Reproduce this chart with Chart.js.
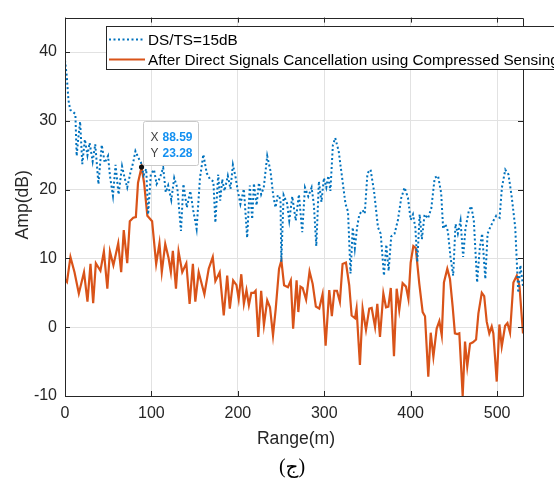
<!DOCTYPE html>
<html>
<head>
<meta charset="utf-8">
<script src="https://cdn.jsdelivr.net/npm/chart.js@4.4.1/dist/chart.umd.min.js"></script>
<style>
  html, body { margin: 0; padding: 0; background: #fff; }
  #wrap { width: 554px; height: 483px; }
</style>
</head>
<body>
<div id="wrap"><canvas id="chart" width="554" height="483"></canvas></div>
<script>
// DS/TS=15dB (blue, dotted)
const blueRange = [
  0, 2, 4, 6, 9, 12, 13.5, 15, 17.5, 20,
  23, 26, 28.5, 32, 35, 38.7, 42.5, 46, 49.8, 52,
  55.5, 58.5, 62, 66, 69, 72, 75.6, 79, 81.5, 85,
  88, 91, 94, 96.2, 99.3, 103, 106, 109.8, 113.6, 116.6,
  119.4, 123, 126.4, 130, 134.2, 137, 141, 145, 148.5, 152.3,
  156.2, 160.1, 164, 167.8, 171.7, 174, 177.3, 179.6, 181.9, 184.6,
  188.4, 191.5, 194.3, 197.4, 200, 203, 207, 210.8, 213.9, 216.6,
  218.6, 221.7, 224.4, 227, 230, 234, 237.8, 240.9, 243.6, 246.3,
  249.4, 250.3, 253, 257, 259.5, 263, 267, 270.7, 274.5, 277.7,
  281.5, 285.4, 288, 290.8, 293.8, 296.8, 299.6, 302.4, 304.8, 307.1,
  310, 312.7, 316.7, 320.7, 324.6, 327.5, 330.4, 333, 335.4, 338.1,
  340.6, 344.4, 346.9, 350, 353.6, 357.6, 362.2, 365.3, 369.1, 371.8,
  374.5, 377.5, 381.4, 385.3, 389.1, 393, 396.9, 400, 402.7, 405.4,
  407.7, 410.4, 413, 416.1, 420, 423.9, 427.8, 431.7, 435.3, 437.6,
  440.2, 443, 446.1, 449.2, 451.9, 454.6, 457.7, 460.7, 463.4, 467.3,
  470.1, 473.1, 476.9, 480, 482.7, 486.4, 489, 492, 495.9, 499,
  502.9, 505.6, 509.5, 513.2, 517.1, 521, 524.5, 527, 530
];
const blueAmp = [
  38.8, 36.5, 33, 31.6, 31.3, 31, 24.9, 27, 29.9, 23.7,
  27.3, 25, 26.8, 24.1, 26.6, 20.8, 26.5, 23.9, 24.9, 22,
  19.1, 23.6, 19.3, 23.4, 21.7, 20.3, 22.4, 24, 25.6, 24.6,
  23.9, 22.1, 23, 16.4, 22.2, 22.9, 20.8, 21.7, 23.2, 19.6,
  20.6, 18.5, 21.7, 20.2, 14.0, 20.8, 17.4, 19.8, 16.9, 14.3,
  21.7, 25.1, 22.4, 21.5, 21.2, 15.2, 22.2, 18.4, 21.5, 19.8,
  22, 20.1, 23.6, 21.8, 19.8, 17.9, 20.1, 13.0, 20.6, 15.7,
  20.9, 17.7, 21, 19.3, 20.3, 24.9, 22.7, 19.2, 17.4, 19.2,
  18.6, 9.5, 19.2, 18.0, 15.5, 19.0, 15.5, 19.3, 13.8, 20.3,
  19, 20.3, 17.8, 11.8, 21.2, 18.2, 21.7, 20.3, 22, 19.8,
  26.5, 27.5, 25.6, 21.7, 17.9, 16.8, 7.8, 14.5, 11.5, 14.6,
  16.4, 17.0, 16.5, 22.4, 22.9, 19.8, 14.5, 13.6, 7.5, 12.0,
  8.2, 13.2, 13.6, 15.6, 18.8, 20.3, 18.8, 15.6, 16.4, 14.5,
  9.5, 16.4, 12.8, 16.4, 15.8, 17.3, 21.7, 22, 19.5, 14.3,
  15, 14, 10.2, 7.5, 15, 13.6, 15.5, 10.2, 14.3, 16.9,
  17.6, 15.5, 6.5, 11.5, 13.6, 7, 13.6, 14.5, 15.5, 16.2,
  15.9, 20.3, 22.9, 22.2, 18.8, 14.5, 5, 9, 6
];

// After cancellation (orange, solid)
const orangeRange = [
  0, 2.3, 6.3, 11, 16, 22, 26, 29.5, 32.6, 35.7,
  41, 45, 49, 52, 56, 61.6, 65, 68, 72, 75,
  79, 82, 84.5, 88.59, 91.5, 95.3, 100.8, 105.5, 109.3, 112,
  116, 119.8, 122.5, 124.8, 128.4, 131.4, 135.7, 140.4, 144.2, 148,
  150.8, 154.7, 161.3, 166.3, 171, 174, 179, 183.7, 187.7, 190.7,
  194.6, 198.5, 201, 204, 207, 210, 212.8, 215.6, 218.6, 220.6,
  223.7, 227, 230.2, 234, 237.2, 240.7, 243.8, 247.7, 250.4, 253.5,
  258, 261.3, 264, 268, 270, 272.5, 275, 279, 283, 286.6,
  290.3, 294.2, 298.1, 301.6, 305.8, 308.8, 311.7, 314.7, 318.1, 321.2,
  325.1, 328.9, 331.7, 335.6, 337.4, 341.3, 344.4, 348.3, 352.1, 354.9,
  358.8, 361.4, 364.5, 368.4, 371.5, 374.2, 377, 380.7, 383.8, 386.8,
  390.7, 394.6, 397.4, 400, 403.1, 405.9, 410, 413.9, 416.6, 420.4,
  423.2, 426.3, 430.1, 433.2, 436, 438.5, 442.4, 445.5, 448.6, 451.2,
  454, 456.3, 460.2, 462.9, 465.5, 468.7, 472.1, 475.7, 478.4, 482.3,
  485.1, 488, 491, 493.8, 495.7, 499.6, 502.7, 505.4, 509.3, 512,
  515, 518.9, 522.8, 525.9, 530
];
const orangeAmp = [
  7.0, 6.6, 10.2, 8, 4.9, 8, 3.7, 9.2, 3.5, 9.3,
  8.2, 11, 5.6, 11, 9, 12.2, 8, 14.1, 9.3, 15.4,
  15.9, 16, 21, 23.28, 21, 16.2, 15.4, 9.2, 12.2, 8,
  12.1, 10.1, 8, 11.1, 5.6, 11, 8, 9.3, 3.4, 9.2,
  3.7, 8, 4.8, 8.5, 10.2, 6.7, 8, 1.7, 7.5, 2.7,
  6.8, 6.1, 4.1, 7.7, 3.4, 5.4, 3.2, 5.0, 5.0, 5.3,
  -1.4, 5.3, 0.3, 3.9, 2.9, -1.2, 2.6, 8.5, 9.7, 6.1,
  5.8, 6.8, -0.2, 6.8, 2.2, 5.9, 5.7, 4.0, 8.1, 6.3,
  3.0, 2.7, 4.8, -2.7, 5.4, 1.6, 5.3, 5.3, 3.7, 9.2,
  9.4, 6.1, 1.7, 1.3, 2.7, -5.5, 2.7, -0.4, 2.7, 2.8,
  0.05, 3.4, -1.4, 4.9, 2.9, 3.0, 5.7, -4.2, 5.6, 2.5,
  6.4, 5.9, 4.1, 9.4, 11.8, 11.5, 6.3, 2.2, 1.6, -7.2,
  -0.8, -4.3, -0.2, 0.9, -1.2, 6.5, 8.5, 7, 3.0, -0.9,
  -1.0, -0.9, -10, -2.1, -5.7, -2.4, -2.2, -1.8, 2.0, 5,
  4.5, 0.8, -0.9, 0.1, -0.9, -7.9, 0.4, -2.8, 0.2, 0.6,
  -0.8, 6.5, 7.5, 6, -0.9
];

const xTicks = [0, 100, 200, 300, 400, 500];
const yTicks = [-10, 0, 10, 20, 30, 40];
const seriesLabels = ["DS/TS=15dB", "After Direct Signals Cancellation using Compressed Sensing"];
const dataTip = { x: 88.59, y: 23.28 };
const xTitle = "Range(m)";
const yTitle = "Amp(dB)";
const caption = "(ج)";

const BLUE = "#0072BD";
const ORANGE = "#D95319";
const AXIS = "#262626";
const FONT = "'Liberation Sans', Arial, sans-serif";

const toPoints = (xs, ys) => xs.map((x, i) => ({ x, y: ys[i] }));

// axes box, inward ticks, titles, legend and the data tip, drawn like MATLAB does
const matlabDecor = {
  id: "matlabDecor",
  afterDraw(chart) {
    const { ctx, chartArea: a, scales: { x, y } } = chart;
    ctx.save();

    ctx.strokeStyle = AXIS;
    ctx.lineWidth = 1;
    ctx.beginPath();
    xTicks.forEach((v) => {
      const px = Math.round(x.getPixelForValue(v)) + 0.5;
      ctx.moveTo(px, a.bottom); ctx.lineTo(px, a.bottom - 5);
      ctx.moveTo(px, a.top); ctx.lineTo(px, a.top + 5);
    });
    yTicks.forEach((v) => {
      const py = Math.round(y.getPixelForValue(v)) + 0.5;
      ctx.moveTo(a.left, py); ctx.lineTo(a.left + 5, py);
      ctx.moveTo(a.right, py); ctx.lineTo(a.right - 5, py);
    });
    ctx.rect(Math.round(a.left) + 0.5, Math.round(a.top) + 0.5,
      Math.round(a.right - a.left), Math.round(a.bottom - a.top));
    ctx.stroke();

    // axis titles and caption
    ctx.fillStyle = AXIS;
    ctx.textAlign = "center";
    ctx.textBaseline = "middle";
    ctx.font = `17.6px ${FONT}`;
    ctx.fillText(xTitle, (a.left + a.right) / 2 + 2, 439);
    ctx.save();
    ctx.translate(23, (a.top + a.bottom) / 2 - 2);
    ctx.rotate(-Math.PI / 2);
    ctx.fillText(yTitle, 0, 0);
    ctx.restore();
    ctx.fillStyle = "#000";
    ctx.font = "20px 'Liberation Serif', 'DejaVu Sans', serif";
    ctx.fillText(caption, (a.left + a.right) / 2 - 2, 468);

    // legend (runs past the right edge, as in the figure)
    ctx.fillStyle = "#fff";
    ctx.fillRect(106, 26, 520, 43);
    ctx.strokeStyle = AXIS;
    ctx.strokeRect(106.5, 26.5, 520, 43);
    const rows = [
      { label: seriesLabels[0], color: BLUE, dash: [2, 2.5], y: 39.5 },
      { label: seriesLabels[1], color: ORANGE, dash: [], y: 59.5 },
    ];
    ctx.font = `15.3px ${FONT}`;
    ctx.textAlign = "left";
    rows.forEach((r) => {
      ctx.strokeStyle = r.color;
      ctx.lineWidth = 2;
      ctx.setLineDash(r.dash);
      ctx.beginPath();
      ctx.moveTo(109, r.y); ctx.lineTo(145, r.y);
      ctx.stroke();
      ctx.setLineDash([]);
      ctx.fillStyle = "#000";
      ctx.fillText(r.label, 148, r.y + 1);
    });

    // data tip
    const px = x.getPixelForValue(dataTip.x);
    const py = y.getPixelForValue(dataTip.y);
    const bx = Math.round(px) + 1.5, by = Math.round(py) - 45.5;
    ctx.fillStyle = "rgba(255,255,255,0.92)";
    ctx.strokeStyle = "#c9c9c9";
    ctx.lineWidth = 1;
    ctx.beginPath();
    ctx.roundRect(bx, by, 55, 44, 2);
    ctx.fill();
    ctx.stroke();
    ctx.font = `12px ${FONT}`;
    ctx.fillStyle = "#404040";
    ctx.fillText("X", bx + 7, by + 16);
    ctx.fillText("Y", bx + 7, by + 32);
    ctx.font = `bold 12px ${FONT}`;
    ctx.fillStyle = "#1490f0";
    ctx.fillText(dataTip.x.toFixed(2), bx + 19, by + 16);
    ctx.fillText(dataTip.y.toFixed(2), bx + 19, by + 32);
    ctx.fillStyle = "#111";
    ctx.beginPath();
    ctx.arc(px, py, 2.6, 0, Math.PI * 2);
    ctx.fill();

    ctx.restore();
  },
};

new Chart(document.getElementById("chart"), {
  type: "line",
  data: {
    datasets: [
      {
        label: seriesLabels[0],
        data: toPoints(blueRange, blueAmp),
        borderColor: BLUE,
        borderWidth: 2,
        borderDash: [2, 2.5],
        pointRadius: 0,
        tension: 0,
      },
      {
        label: seriesLabels[1],
        data: toPoints(orangeRange, orangeAmp),
        borderColor: ORANGE,
        borderWidth: 2.2,
        pointRadius: 0,
        tension: 0,
      },
    ],
  },
  options: {
    responsive: false,
    animation: false,
    devicePixelRatio: 1,
    layout: { padding: { top: 17, right: 31, left: 0, bottom: 0 } },
    plugins: { legend: { display: false }, tooltip: { enabled: false } },
    scales: {
      x: {
        type: "linear",
        min: 0,
        max: 530,
        afterBuildTicks: (s) => { s.ticks = xTicks.map((value) => ({ value })); },
        afterFit: (s) => { s.height = 87; },
        grid: { color: "#e2e2e2", drawTicks: false },
        border: { display: false },
        ticks: { padding: 8, color: AXIS, maxRotation: 0, font: { family: FONT, size: 16 } },
      },
      y: {
        type: "linear",
        min: -10,
        max: 45,
        afterBuildTicks: (s) => { s.ticks = yTicks.map((value) => ({ value })); },
        afterFit: (s) => { s.width = 65; },
        grid: { color: "#e2e2e2", drawTicks: false },
        border: { display: false },
        ticks: { padding: 8, color: AXIS, font: { family: FONT, size: 16 } },
      },
    },
  },
  plugins: [matlabDecor],
});
</script>
</body>
</html>
